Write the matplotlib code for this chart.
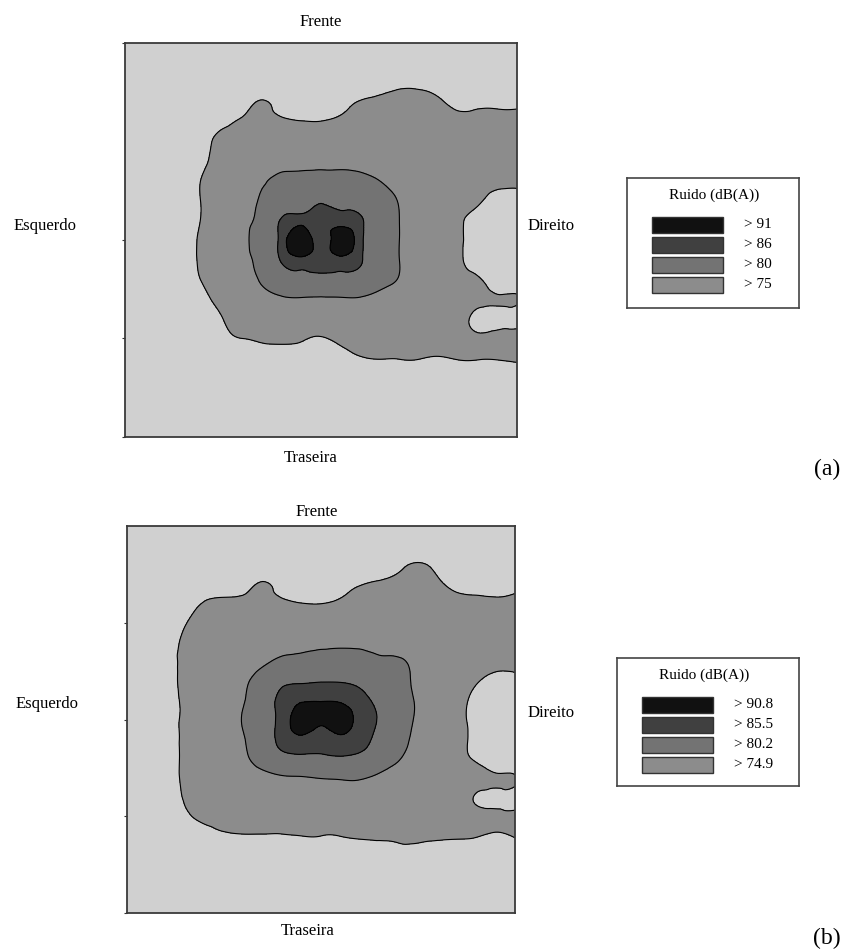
import numpy as np
import matplotlib
matplotlib.use("Agg")
import matplotlib.pyplot as plt
import matplotlib.tri as mtri
from matplotlib.patches import Rectangle

plt.rcParams["font.family"] = ["Liberation Serif", "DejaVu Serif"]

# noise level (dB(A)) sampled on a 21 x 21 grid, rows run front -> back
GRID_A = [
    [70] * 21,
    [70] * 21,
    [70, 70, 70, 70, 70, 70, 70, 70, 70, 70, 70, 70, 70, 72, 73.5, 73.5, 72, 70, 70, 70, 70],
    [70, 70, 70, 70, 70, 70, 72, 75.5, 72, 70, 70, 72, 75.5, 76.5, 77, 77, 76, 73, 73.5, 73.5, 73.5],
    [70, 70, 70, 70, 72, 73.5, 76, 76.5, 76, 75.3, 75.2, 76.5, 78, 78, 78, 78, 78, 77, 77, 77, 77],
    [70, 70, 70, 70, 73, 77, 78, 78.5, 78.5, 78.5, 78.5, 78.5, 78.5, 78.5, 78.5, 78.5, 78.5, 78, 78, 78, 78],
    [70, 70, 70, 71, 74, 77.5, 78, 78.5, 79, 79.3, 79.3, 79.3, 79, 78.5, 78.5, 78.5, 78.5, 78.5, 78, 77.5, 77.5],
    [70, 70, 70, 72, 75.5, 77.5, 78, 79.5, 81, 81.5, 81.5, 81.5, 81, 80, 79, 78.5, 78.5, 78, 77.5, 77, 76.5],
    [70, 70, 70, 72, 75.5, 77.5, 78.5, 80.5, 83, 84.7, 85.3, 84.7, 83.5, 81.5, 79.8, 78.5, 78, 77, 76, 72, 72],
    [70, 70, 70, 72, 75.5, 77.5, 79, 81.5, 86.5, 88.5, 88.6, 88.5, 86.5, 83, 80, 78.5, 78, 76, 72.5, 70, 70],
    [70, 70, 70, 72.5, 76, 77.5, 79, 82, 88, 96, 88, 95, 87.5, 83, 80, 78.5, 78, 76, 72, 70, 70],
    [70, 70, 70, 72.5, 76, 77.5, 79, 81.5, 86.5, 89.5, 88, 89.5, 86.5, 83, 80, 78.5, 78, 76, 72, 70, 70],
    [70, 70, 70, 72, 75.5, 77.5, 78.5, 80.5, 83, 84, 84, 84, 83.5, 81.5, 79.8, 78.5, 78, 77, 75.8, 71, 70.5],
    [70, 70, 70, 70.5, 73.5, 77, 78, 78.5, 79.5, 79.7, 79.7, 79.7, 79.7, 79, 78.5, 78.5, 78, 77.5, 76.5, 75.5, 75.5],
    [70, 70, 70, 70, 71.5, 75, 77.5, 78, 78, 78, 78, 78, 78, 78, 78, 78, 78, 76.5, 74, 73.5, 73.5],
    [70, 70, 70, 70, 70, 73, 75, 76.5, 77, 76, 74.5, 76.5, 77.5, 77.5, 77.5, 77.5, 77.5, 77, 76, 77, 77.5],
    [70, 70, 70, 70, 70, 70, 70, 70, 70, 70, 70, 72, 74.5, 75.3, 75.3, 75.3, 74.5, 75.5, 75.5, 75.5, 76],
    [70, 70, 70, 70, 70, 70, 70, 70, 70, 70, 70, 70, 70, 70, 70, 70, 70, 70, 70, 71, 72],
    [70] * 21,
    [70] * 21,
    [70] * 21,
]

GRID_B = [
    [70] * 21,
    [70] * 21,
    [70, 70, 70, 70, 70, 70, 70, 70, 70, 70, 70, 70, 70, 70, 73, 75.5, 73, 70, 70, 70, 70],
    [70, 70, 70, 70, 70, 70, 72, 75.5, 72, 70, 70, 72, 74.5, 76, 77, 77.5, 76, 73, 72.5, 72.5, 73],
    [70, 70, 70, 72, 75.5, 77, 77, 76.5, 76, 75, 74.8, 76, 77.5, 78, 78, 78, 78, 77, 76.5, 76, 76.5],
    [70, 70, 70, 74.5, 77, 78, 78.5, 78.5, 78.5, 78.5, 78.5, 78.5, 78.5, 78.5, 78.5, 78.5, 78.5, 78, 78, 78, 78],
    [70, 70, 72, 76, 77.5, 78, 78.5, 78.5, 79, 79.2, 79.4, 79.5, 79.4, 79, 78.5, 78.5, 78.5, 78, 77.5, 77.5, 77.5],
    [70, 70, 72, 76.5, 77.5, 78, 78.5, 79.5, 81, 81.5, 82, 82.2, 82, 81, 80.8, 79, 78.5, 78, 77.5, 76.5, 76],
    [70, 70, 72, 76.5, 77.5, 78, 79.5, 82, 84.5, 85, 85.2, 85.2, 84.5, 83, 81.8, 79.3, 78.5, 77.5, 75.5, 73, 73.5],
    [70, 70, 72, 76, 77.5, 78.5, 80, 83, 87, 90, 90.5, 90, 87, 84.5, 82, 79.8, 78.5, 77, 73, 70, 70],
    [70, 70, 72, 76, 77.5, 78.5, 80.5, 83.5, 87.5, 94, 92, 94, 88.5, 85.2, 82, 79.8, 78.5, 77, 72.5, 70, 70],
    [70, 70, 72, 76, 77.5, 78.5, 80, 83, 87, 89.5, 87.5, 89.5, 87, 84.5, 81.5, 79.5, 78.5, 77, 73, 70, 70],
    [70, 70, 72, 76, 77.5, 78, 79.5, 82, 84, 84.5, 84.8, 85, 84.5, 83, 80.5, 79, 78.5, 77, 74, 71, 70.5],
    [70, 70, 72, 76, 77.5, 78, 78.5, 79, 79.8, 80, 80.4, 80.6, 80.6, 79.5, 78.5, 78.5, 78, 77.5, 77, 75.5, 75.2],
    [70, 70, 71.5, 75.5, 77, 77.5, 78, 78, 78, 78, 78, 78, 78, 78, 78, 78, 78, 77.5, 74.5, 74, 74],
    [70, 70, 70, 73.5, 76.5, 77, 77.5, 77.5, 77.5, 77.5, 77.5, 77.5, 77.5, 77.5, 77.5, 77.5, 77.5, 77.5, 77, 76, 76],
    [70, 70, 70, 70, 72, 74, 74.5, 74.5, 74.5, 75, 75, 75.1, 76, 76.5, 77, 77, 76.5, 76, 75.5, 74, 75.5],
    [70, 70, 70, 70, 70, 70, 70, 70, 70, 70, 70, 70, 70, 70, 71, 71, 70, 70, 70, 70, 70],
    [70] * 21,
    [70] * 21,
    [70] * 21,
]

LEVELS_A = [75, 80, 86, 91]
LEVELS_B = [74.9, 80.2, 85.5, 90.8]

BAND_COLORS = ["#d0d0d0", "#8c8c8c", "#737373", "#404040", "#111111"]

W, H = 847, 949
fig = plt.figure(figsize=(W / 100, H / 100), dpi=100)


def px_rect(x0, y0, x1, y1):
    return [x0 / W, 1 - y1 / H, (x1 - x0) / W, (y1 - y0) / H]


def txt(x, y, s, **kw):
    fig.text(x / W, 1 - y / H, s, ha="center", va="center", **kw)


def draw_map(rect, grid, levels, ticks):
    ax = fig.add_axes(rect)
    z = np.array(grid, dtype=float)
    gx, gy = np.meshgrid(np.linspace(0, 1, z.shape[1]), np.linspace(0, 1, z.shape[0]))
    # smooth the isolines with matplotlib's own triangular refiner
    tri = mtri.Triangulation(gx.ravel(), gy.ravel())
    refiner = mtri.UniformTriRefiner(tri)
    tri_f, z_f = refiner.refine_field(z.ravel(), subdiv=3)
    ax.tricontourf(tri_f, z_f, levels=[0] + levels + [200], colors=BAND_COLORS)
    ax.tricontour(tri_f, z_f, levels=levels, colors="black", linewidths=0.8)
    ax.set_xlim(0, 1)
    ax.set_ylim(1, 0)
    ax.set_xticks([])
    ax.set_yticks(ticks)
    ax.set_yticklabels([])
    ax.tick_params(axis="y", length=2, width=0.8, color="#333333")
    for sp in ax.spines.values():
        sp.set_color("#3a3a3a")
        sp.set_linewidth(1.3)
    return ax


def draw_key(x0, y0, x1, y1, levels):
    ax = fig.add_axes(px_rect(x0, y0, x1, y1))
    w, h = x1 - x0, y1 - y0
    ax.set_xlim(0, w)
    ax.set_ylim(h, 0)
    ax.set_xticks([])
    ax.set_yticks([])
    for sp in ax.spines.values():
        sp.set_color("#444444")
        sp.set_linewidth(1.2)
    ax.text(87, 17, "Ruido (dB(A))", ha="center", va="center", fontsize=11)
    for i, lev in enumerate(levels[::-1]):
        col = BAND_COLORS[len(levels) - i]
        ax.add_patch(Rectangle((25, 39 + 20 * i), 71, 16, facecolor=col,
                               edgecolor="#333333", linewidth=1))
        ax.text(117, 47 + 20 * i, f"> {lev:g}", ha="left", va="center", fontsize=11)


# (a)
draw_map(px_rect(125, 43, 517, 437), GRID_A, LEVELS_A, [0, 0.5, 0.75, 1])
txt(321, 22, "Frente", fontsize=12)
txt(311, 458, "Traseira", fontsize=12)
txt(45, 226, "Esquerdo", fontsize=12)
txt(551, 226, "Direito", fontsize=12)
draw_key(627, 178, 799, 308, LEVELS_A)
txt(827, 469, "(a)", fontsize=17)

# (b)
draw_map(px_rect(127, 526, 515, 913), GRID_B, LEVELS_B, [0.25, 0.5, 0.75, 1])
txt(317, 512, "Frente", fontsize=12)
txt(308, 931, "Traseira", fontsize=12)
txt(47, 704, "Esquerdo", fontsize=12)
txt(551, 713, "Direito", fontsize=12)
draw_key(617, 658, 799, 786, LEVELS_B)
txt(827, 938, "(b)", fontsize=17)

fig.savefig("out.png", dpi=100)
